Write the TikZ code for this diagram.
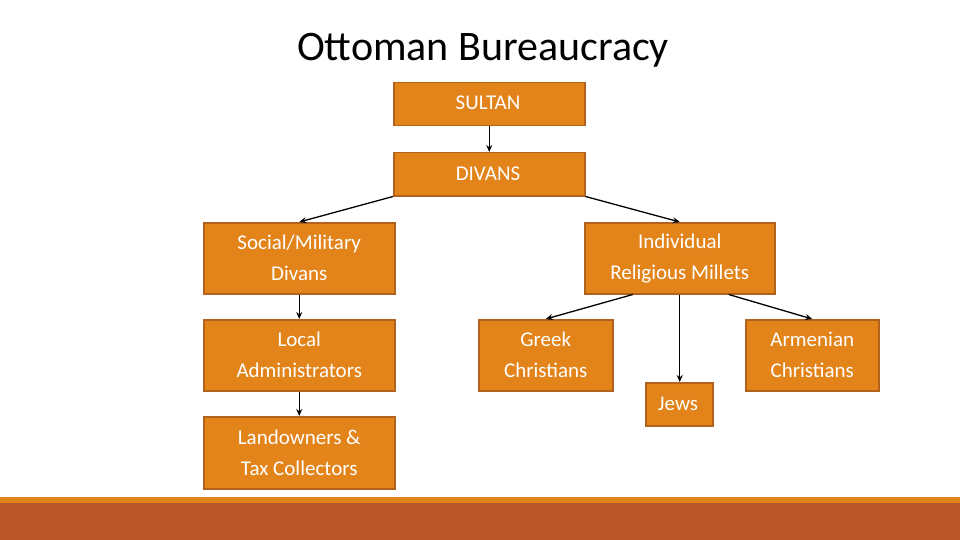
\documentclass[tikz,border=0pt]{standalone}
\usepackage{fontspec}
\setmainfont{Carlito}
\usetikzlibrary{arrows.meta}
\begin{document}
\begin{tikzpicture}[x=1pt,y=-1pt,
  box/.style={draw=boxline,fill=boxfill,line width=1.5pt,text=white,font=\fontsize{21}{28}\selectfont,align=center,inner sep=0pt},
  arr/.style={-{Stealth[length=7pt,width=6pt]},line width=1.3pt}]
\definecolor{boxfill}{HTML}{E2841A}
\definecolor{boxline}{HTML}{B0621E}
\definecolor{rust}{HTML}{BA562A}
\useasboundingbox (0,0) rectangle (960,540);
\fill[boxfill] (0,497) rectangle (960,503);
\fill[rust] (0,503) rectangle (960,540);
\node (title) at (483,50) {\fontsize{42}{48}\selectfont Ottoman Bureaucracy};
\newcommand\bx[6]{\node[box,minimum width=#4-#2,minimum height=#5-#3,anchor=north west] (#1) at (#2,#3) {}; \node[text=white,font=\fontsize{21}{31}\selectfont,align=center] at (#1.center) {#6};}
\node[box,minimum width=191,minimum height=43,anchor=north west] (sultan) at (393,82) {};
\node[text=white,font=\fontsize{21}{26}\selectfont] at (488,103) {SULTAN};
\node[box,minimum width=191,minimum height=43,anchor=north west] (divans) at (393,152) {};
\node[text=white,font=\fontsize{21}{26}\selectfont] at (488,174) {DIVANS};
\bx{social}{203}{222}{394}{293}{Social/Military\\Divans}
\bx{indiv}{584}{222}{774}{293}{Individual\\Religious Millets}
\bx{local}{203}{319}{394}{390}{Local\\Administrators}
\bx{greek}{478}{319}{612}{390}{Greek\\Christians}
\bx{armen}{745}{319}{878}{390}{Armenian\\Christians}
\node[box,minimum width=67,minimum height=43,anchor=north west] (jews) at (645,382) {};
\node[text=white,font=\fontsize{21}{26}\selectfont] at (678,404) {Jews};
\bx{land}{203}{416}{394}{488}{Landowners \&\\Tax Collectors}
\draw[arr] (sultan.south) -- (divans.north);
\draw[arr] (divans.south west) -- (social.north);
\draw[arr] (divans.south east) -- (indiv.north);
\draw[arr] (social.south) -- (local.north);
\draw[arr] (local.south) -- (land.north);
\draw[arr] ([xshift=-47pt]indiv.south) -- (greek.north);
\draw[arr] (indiv.south) -- (indiv.south|-jews.north);
\draw[arr] ([xshift=49pt]indiv.south) -- (armen.north);
\end{tikzpicture}
\end{document}
